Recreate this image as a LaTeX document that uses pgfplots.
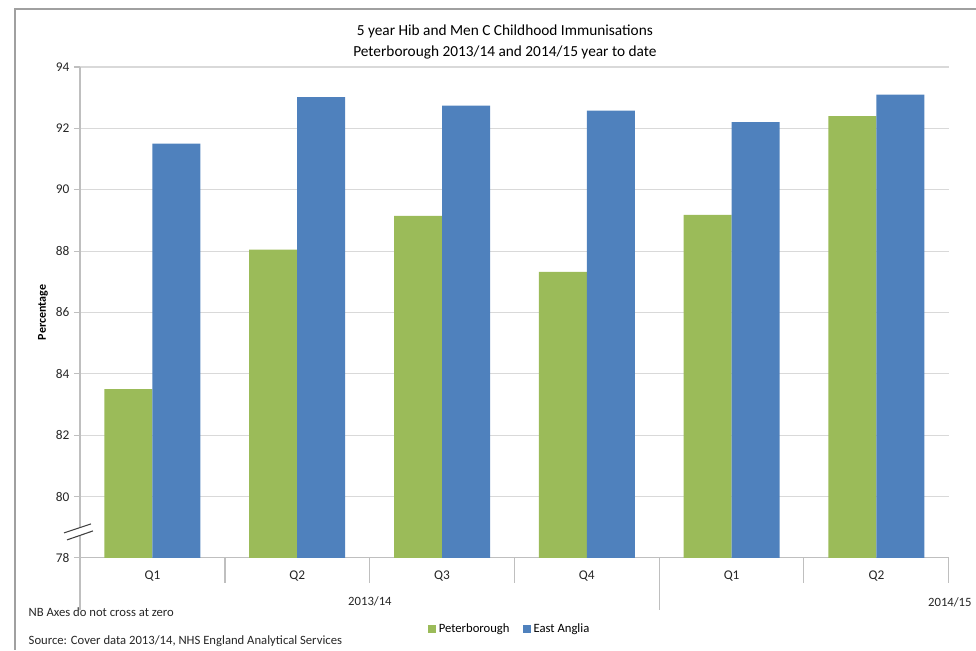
\documentclass[border=0pt]{standalone}
\usepackage{pgfplots}
\pgfplotsset{compat=1.18}
\usepackage{fontspec}
\setmainfont{Carlito}
\definecolor{pgreen}{HTML}{9BBB59}
\definecolor{eblue}{HTML}{4F81BD}
\definecolor{axgray}{HTML}{BFBFBF}
\definecolor{gridgray}{HTML}{D9D9D9}
\definecolor{framegray}{HTML}{A0A0A0}
\begin{document}
\begin{tikzpicture}
\begin{scope}[x=0.75pt,y=-0.75pt]
\path[use as bounding box] (0,0) rectangle (976,645);
\draw[framegray, line width=1.5pt] (15,650) -- (15,9) -- (985,9);
\end{scope}
\begin{axis}[at={(60pt,-418.5pt)}, anchor=south west, scale only axis,
  width=651.75pt, height=368.25pt,
  ybar=0pt, bar width=36pt,
  xmin=-0.5, xmax=5.5, ymin=78, ymax=94,
  ytick={78,80,...,94},
  xtick={0,...,5}, xticklabels={Q1,Q2,Q3,Q4,Q1,Q2},
  x tick style={draw=none},
  /pgf/number format/assume math mode=true,
  axis x line*=bottom, axis y line*=left,
  axis line style={axgray, line width=0.8pt},
  ymajorgrids, grid style={gridgray, line width=0.8pt},
  y tick style={axgray, line width=0.8pt},
  tick align=outside, major tick length=4.5pt,
  ticklabel style={font=\fontsize{10}{12}\selectfont, text=black!85},
  xticklabel style={anchor=center, yshift=-9pt},
  ylabel={\textbf{Percentage}},
  ylabel style={at={(axis description cs:-0.0426,0.5)}, anchor=center, font=\fontsize{9}{11}\selectfont},
  title={5 year Hib and Men C Childhood Immunisations\\Peterborough 2013/14 and 2014/15 year to date},
  title style={at={(axis description cs:0.489,1.034)}, anchor=center, align=center,
    font=\fontsize{11.5}{16}\selectfont, text=black},
  legend style={at={(0.495,-0.1446)}, anchor=center, draw=none, legend columns=2,
    font=\fontsize{9.5}{11}\selectfont,
    /tikz/every even column/.append style={column sep=8pt}},
  legend image code/.code={\fill[#1] (0pt,-3pt) rectangle (6pt,3pt);},
]
\addplot[fill=pgreen, draw=none] coordinates {(0,83.5) (1,88.05) (2,89.15) (3,87.32) (4,89.18) (5,92.4)};
\addplot[fill=eblue, draw=none] coordinates {(0,91.5) (1,93.02) (2,92.74) (3,92.58) (4,92.2) (5,93.1)};
\legend{Peterborough, East Anglia}
\end{axis}
\begin{scope}[x=0.75pt,y=-0.75pt, font=\fontsize{9.5}{11}\selectfont]
\foreach \xx in {225,370,515,804,949} \draw[axgray, line width=0.8pt] (\xx,558) -- (\xx,583);
\foreach \xx in {80,660} \draw[axgray, line width=0.8pt] (\xx,558) -- (\xx,610);
\node[text=black!85] at (370,601) {2013/14};
\node[text=black!85] at (950,602) {2014/15};
\node[anchor=west, text=black!85] at (24,612) {NB Axes do not cross at zero};
\node[anchor=west, text=black!85] at (24,641) {Source: Cover data 2013/14, NHS England Analytical Services};
\fill[white] (64,533) -- (91,524) -- (93,531) -- (67,540) -- cycle;
\draw[black!75, line width=0.8pt] (64,533) -- (91,524) (67,540) -- (93,531);
\end{scope}
\end{tikzpicture}
\end{document}
